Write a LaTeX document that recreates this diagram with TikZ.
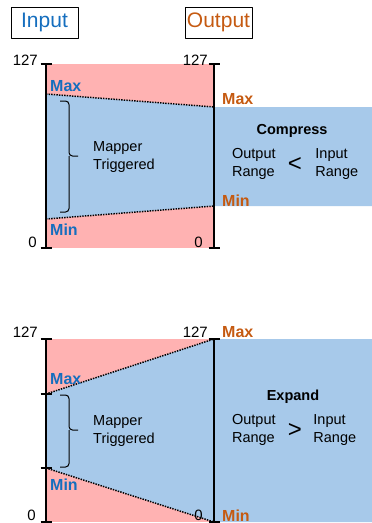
\documentclass[tikz,border=0pt]{standalone}
\usepackage{fontspec}
\setmainfont{Liberation Sans}
\usetikzlibrary{positioning}
\definecolor{inblue}{RGB}{21,110,190}
\definecolor{outorange}{RGB}{197,90,17}
\definecolor{rangepink}{RGB}{255,178,178}
\definecolor{rangeblue}{RGB}{167,201,234}
\begin{document}
\begin{tikzpicture}[x=1pt,y=-1pt,line join=round,
    axis/.style={line width=1.5pt},
    limit/.style={line width=1.5pt,dash pattern=on 1.4pt off 1.2pt},
    bracket/.style={line width=1pt,rounded corners=3.5pt},
    title/.style={draw,line width=.9pt,minimum width=67pt,minimum height=31pt,inner sep=0pt,font=\fontsize{21}{21}\selectfont},
    num/.style={inner sep=0pt,anchor=base east,font=\fontsize{15}{15}\selectfont},
    lbl/.style={inner sep=0pt,anchor=base west,font=\fontsize{16}{16}\selectfont\bfseries},
    txt/.style={inner sep=0pt,align=left,font=\fontsize{14.5}{18}\selectfont},
    cmp/.style={inner sep=0pt,font=\fontsize{24}{24}\selectfont}]
	\useasboundingbox (0,0) rectangle (372,523);
	\newcommand{\drawaxis}[3]{
		% axis with end ticks
		\draw[axis] (#1,#2) -- (#1,#3);
		\draw[axis] (#1-5.5,#2) -- (#1+5.5,#2);
		\draw[axis] (#1-5.5,#3) -- (#1+5.5,#3);
	}
	\newcommand{\drawbracket}[3]{
		% curly bracket: top, tip, bottom
		\draw[bracket] (60,#1) -| (69,#2) -- (78,#2);
		\draw[bracket] (60,#3) -| (69,#2);
	}
	% Titles
	\node[title,text=inblue] (input) at (44.5,22.5) {Input};
	\node[title,text=outorange] (output) at (218.5,22.5) {Output};
	% Compress
	\coordinate (inmaxA) at (46,94);
	\coordinate (outmaxA) at (214,107);
	\coordinate (inminA) at (46,219);
	\coordinate (outminA) at (214,206);
	\fill[rangepink] (46,64) rectangle (214,248);
	\fill[rangeblue] (inmaxA) -- (outmaxA) -- (372,107) -- (372,206) -- (outminA) -- (inminA) -- cycle;
	\draw[limit] (inmaxA) -- (outmaxA);
	\draw[limit] (inminA) -- (outminA);
	\drawaxis{46}{64}{248}
	\drawaxis{214}{64}{248}
	\node[num] (topinA) at (38,65) {127};
	\node[num] (topoutA) at (208,65) {127};
	\node[num] (zeroinA) at (37,247) {0};
	\node[num] (zerooutA) at (203,247) {0};
	\node[lbl,text=inblue] (maxinA) at (50,91) {Max};
	\node[lbl,text=outorange] (maxoutA) at (222,104) {Max};
	\node[lbl,text=inblue] (mininA) at (50,235) {Min};
	\node[lbl,text=outorange] (minoutA) at (222,206) {Min};
	\drawbracket{101}{156}{212}
	\node[txt,anchor=west] (mapperA) at (93,157) {Mapper\\Triggered};
	\node[txt,font=\fontsize{14.5}{18}\selectfont\bfseries] (compress) at (292,131) {Compress};
	\node[cmp] (ltA) at (295,164) {<};
	\node[txt,left=12pt of ltA] (outrangeA) {Output\\Range};
	\node[txt,right=13pt of ltA] (inrangeA) {Input\\Range};
	% Expand
	\coordinate (inmaxB) at (46,394);
	\coordinate (outmaxB) at (214,339);
	\coordinate (inminB) at (46,468);
	\coordinate (outminB) at (214,522);
	\fill[rangepink] (46,339) rectangle (214,522);
	\fill[rangeblue] (inmaxB) -- (outmaxB) -- (372,339) -- (372,522) -- (outminB) -- (inminB) -- cycle;
	\draw[limit] (inmaxB) -- (outmaxB);
	\draw[limit] (inminB) -- (outminB);
	\drawaxis{46}{339}{522}
	\drawaxis{214}{339}{522}
	\draw[axis] (40.5,394) -- (51.5,394);
	\draw[axis] (40.5,468) -- (51.5,468);
	\node[num] (topinB) at (38,337) {127};
	\node[num] (topoutB) at (208,337) {127};
	\node[num] (zeroinB) at (36,520) {0};
	\node[num] (zerooutB) at (203,520) {0};
	\node[lbl,text=inblue] (maxinB) at (50,384) {Max};
	\node[lbl,text=outorange] (maxoutB) at (222,337) {Max};
	\node[lbl,text=inblue] (mininB) at (50,490) {Min};
	\node[lbl,text=outorange] (minoutB) at (222,521) {Min};
	\drawbracket{395}{430}{467}
	\node[txt,anchor=west] (mapperB) at (93,431) {Mapper\\Triggered};
	\node[txt,font=\fontsize{14.5}{18}\selectfont\bfseries] (expand) at (293,397) {Expand};
	\node[cmp] (gtB) at (295,430) {>};
	\node[txt,left=12pt of gtB] (outrangeB) {Output\\Range};
	\node[txt,right=11pt of gtB] (inrangeB) {Input\\Range};
\end{tikzpicture}
\end{document}
